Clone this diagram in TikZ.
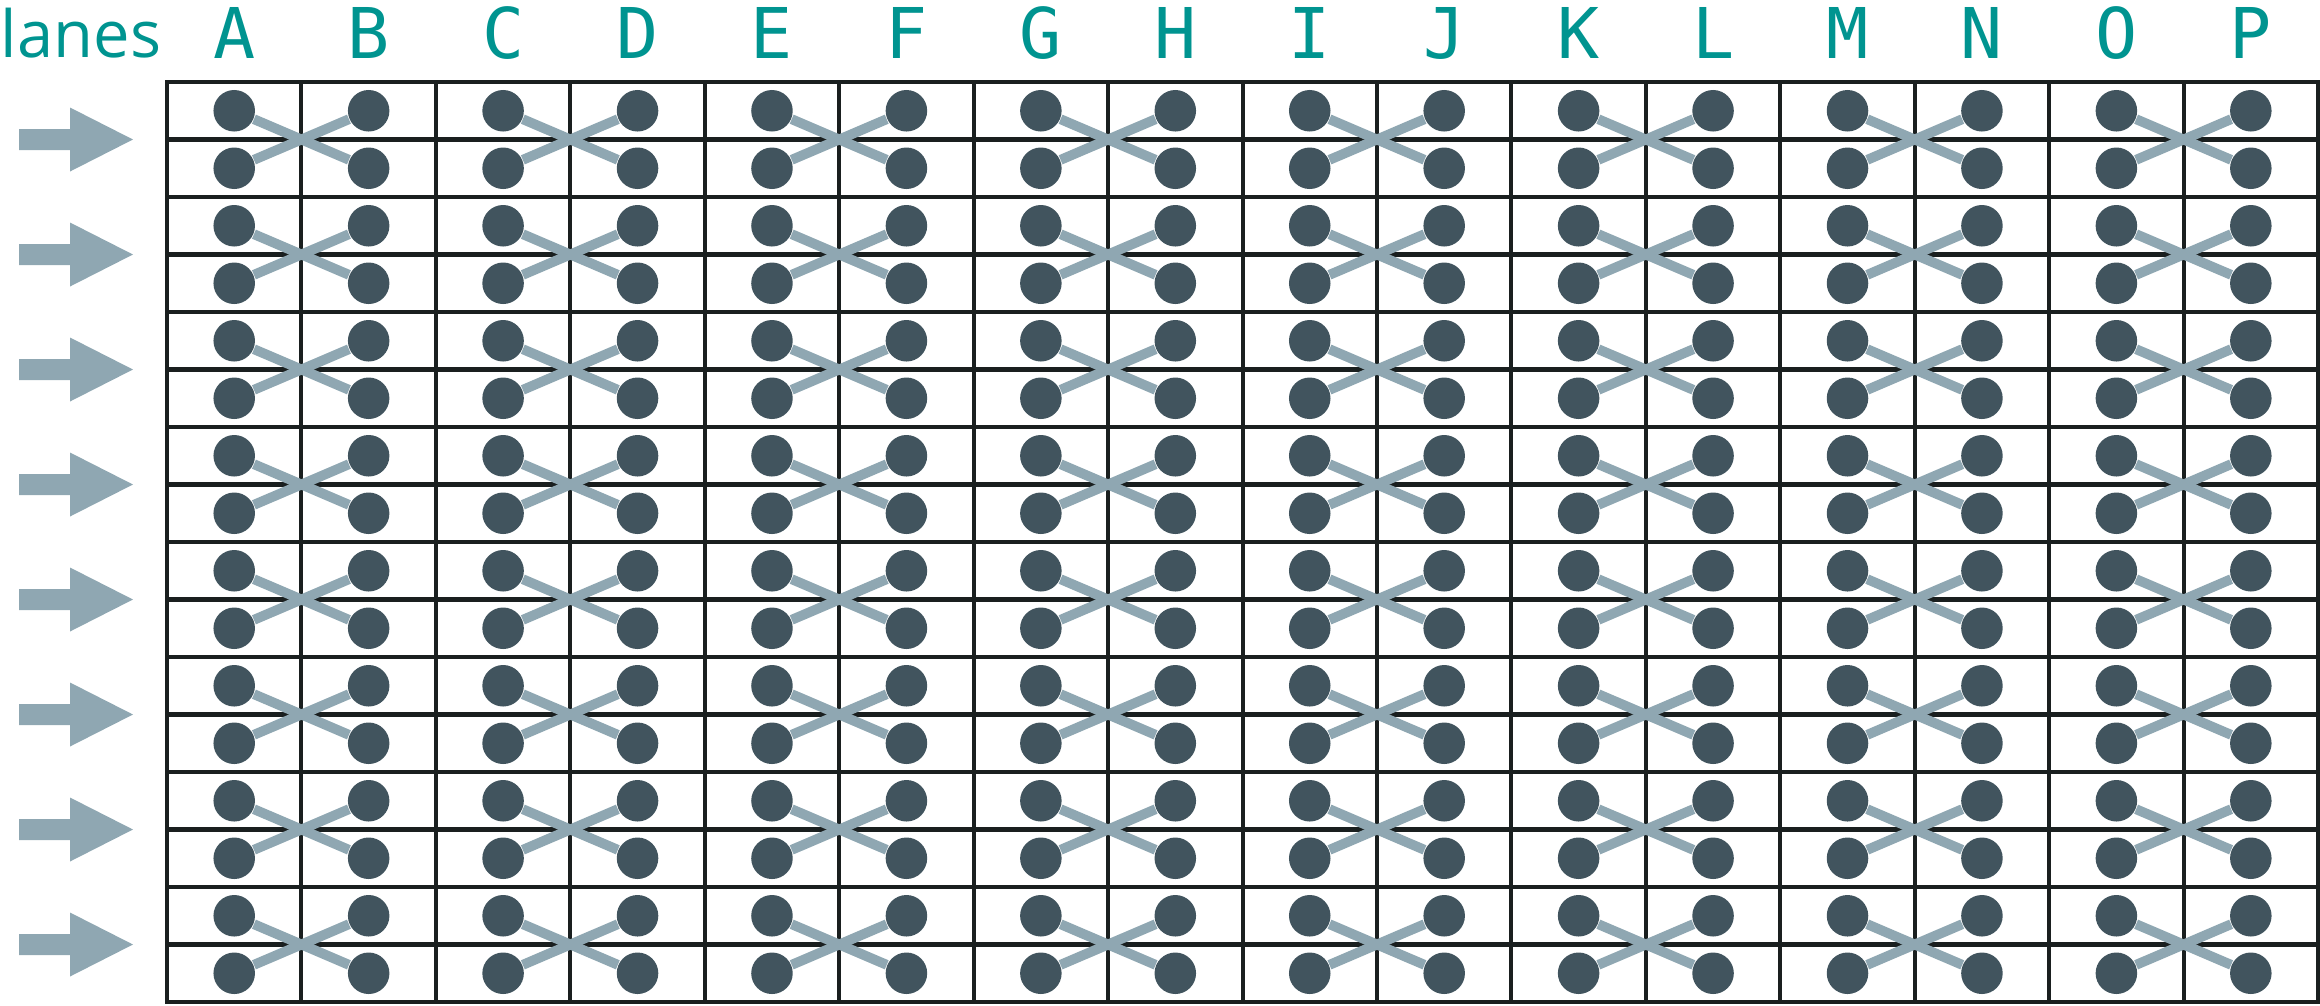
\documentclass[tikz,border=0pt]{standalone}
\usepackage{fontspec}
\setmainfont{Open Sans}
\newfontfamily\lettermono{DejaVu Sans Mono}
\usetikzlibrary{positioning}
\definecolor{laneteal}{RGB}{0,148,144}
\definecolor{dotslate}{RGB}{65,84,94}
\definecolor{linkgray}{RGB}{143,167,178}
\definecolor{gridblack}{RGB}{26,31,31}

\begin{document}
\begin{tikzpicture}[
    x=0.01cm, y=-0.01cm,
    gridline/.style={draw=gridblack, line width=1.15pt},
    dotnode/.style={circle, fill=dotslate, inner sep=0pt, minimum size=0.415cm},
    xlink/.style={draw=linkgray, line width=2.8pt},
    lanearrow/.style={fill=linkgray},
    collabel/.style={text=laneteal, anchor=base, inner sep=0pt, font=\lettermono\fontsize{19.9pt}{24pt}\selectfont},
    lanelabel/.style={text=laneteal, anchor=base, inner sep=0pt, font=\fontsize{18.5pt}{22pt}\selectfont}
  ]
    \useasboundingbox (0,0) rectangle (2320,1005);
    \node[lanelabel] (lanes) at (81,57) {lanes};
    \foreach \l [count=\c from 0] in {A,B,C,D,E,F,G,H,I,J,K,L,M,N,O,P}
      \node[collabel] (col-\c) at ({167+134.44*(\c+0.5)},58) {\l};
    \draw[gridline] (167,82) rectangle (2318,1002);
    \foreach \c in {1,...,15}
      \draw[gridline] ({167+134.44*\c},82) -- ({167+134.44*\c},1002);
    \foreach \r in {1,...,15}
      \draw[gridline] (167,{82+57.5*\r}) -- (2318,{82+57.5*\r});
    \foreach \c in {0,...,15}
      \foreach \r in {0,...,15}
        \node[dotnode] (d-\c-\r) at ({167+134.44*(\c+0.5)},{82+57.5*(\r+0.5)}) {};
    \foreach \c in {0,2,...,14}
      \foreach \r in {0,2,...,14}{
        \pgfmathtruncatemacro{\cc}{\c+1}
        \pgfmathtruncatemacro{\rr}{\r+1}
        \draw[xlink] (d-\c-\r) -- (d-\cc-\rr);
        \draw[xlink] (d-\c-\rr) -- (d-\cc-\r);
      }
    \foreach \k in {0,...,7}
      \fill[lanearrow] (19,{82+57.5*(2*\k+1)-10.5}) -- ++(51,0) -- ++(0,-21.5) -- (133,{82+57.5*(2*\k+1)})
        -- (70,{82+57.5*(2*\k+1)+32}) -- ++(0,-21.5) -- (19,{82+57.5*(2*\k+1)+10.5}) -- cycle;
  \end{tikzpicture}
\end{document}
